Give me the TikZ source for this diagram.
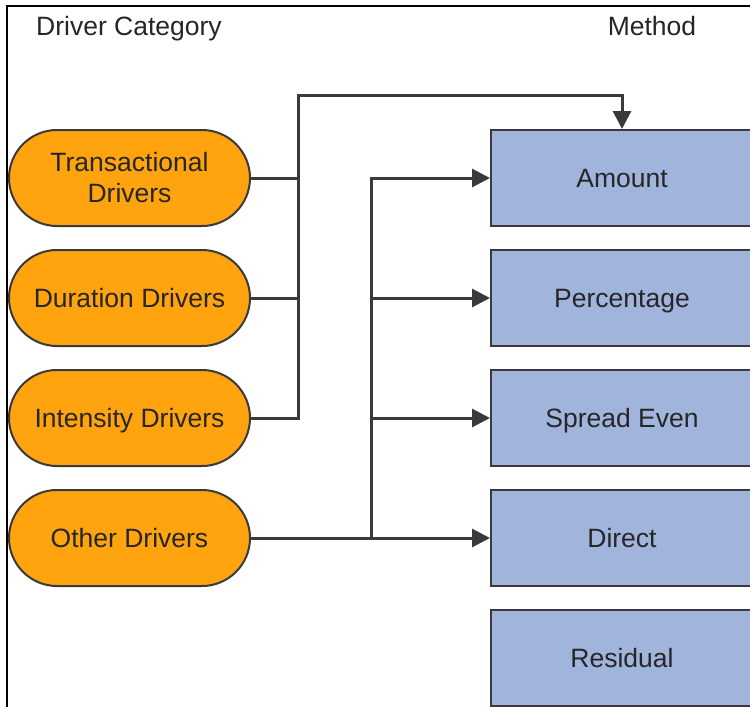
\documentclass[tikz,border=0pt]{standalone}
\usepackage{fontspec}
\setmainfont{Liberation Sans}
\usetikzlibrary{arrows.meta}
\definecolor{pillfill}{RGB}{255,163,15}
\definecolor{boxfill}{RGB}{160,180,220}
\definecolor{edge}{RGB}{58,58,58}
\definecolor{txt}{RGB}{38,38,38}
\begin{document}
\begin{tikzpicture}[x=1pt,y=-1pt,
  every node/.style={font=\fontsize{26.5}{31}\selectfont, text=txt},
  pill/.style={draw=edge, line width=2pt, fill=pillfill, rounded corners=48pt,
    minimum width=241pt, minimum height=96pt, align=center, inner sep=0pt},
  onepill/.style={pill, text height=25pt, text depth=6pt},
  methodbox/.style={draw=edge, line width=2pt, fill=boxfill,
    minimum width=262pt, minimum height=96pt, inner sep=0pt,
    text height=25pt, text depth=6pt},
  conn/.style={draw=edge, line width=3pt},
  arr/.style={conn, -{Triangle[length=18pt,width=18pt]}},
  header/.style={anchor=base, inner sep=0pt}]
\useasboundingbox (0,0) rectangle (750,707);
\fill[white] (0,0) rectangle (750,707);
\draw[black, line width=2pt] (7,710) -- (7,6) -- (752,6);

\node[header] (hcat) at (129,35) {Driver Category};
\node[header] (hmeth) at (652,35) {Method};

\node[pill] (trans) at (129.5,178) {Transactional\\Drivers};
\node[onepill] (dur) at (129.5,298) {Duration Drivers};
\node[onepill] (inten) at (129.5,418) {Intensity Drivers};
\node[onepill] (other) at (129.5,538) {Other Drivers};

\node[methodbox] (amount) at (622,178) {Amount};
\node[methodbox] (perc) at (622,298) {Percentage};
\node[methodbox] (spread) at (622,418) {Spread Even};
\node[methodbox] (direct) at (622,538) {Direct};
\node[methodbox] (resid) at (622,658) {Residual};

\coordinate (busA) at (298,95);
\coordinate (busB) at (371,0);

\draw[conn] (trans.east) -- (trans.east -| busA);
\draw[conn] (dur.east) -- (dur.east -| busA);
\draw[arr] (inten.east) -| (busA) -| (amount.north);

\draw[arr] (other.east) -- (direct.west);
\draw[arr] (other.east -| busB) |- (amount.west);
\draw[arr] (perc.west -| busB) -- (perc.west);
\draw[arr] (spread.west -| busB) -- (spread.west);
\end{tikzpicture}
\end{document}
